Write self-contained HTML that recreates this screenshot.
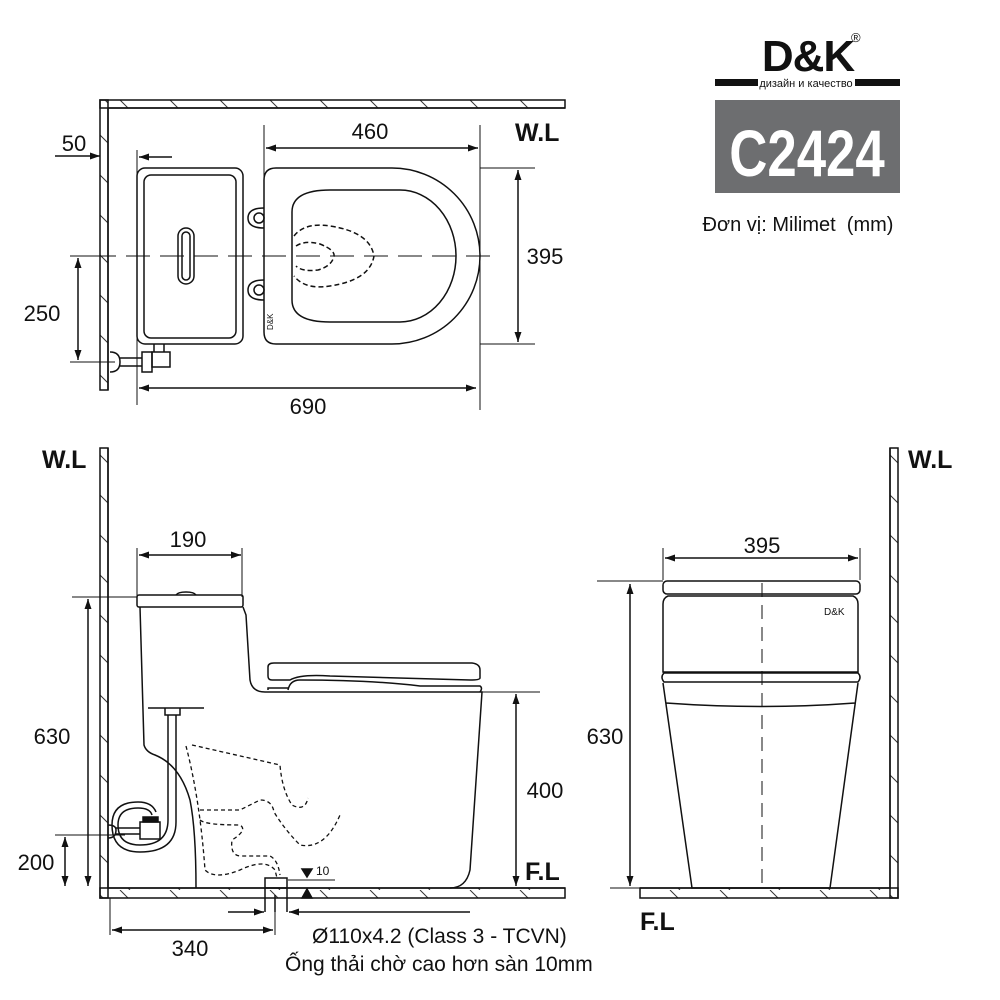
<!DOCTYPE html>
<html><head><meta charset="utf-8"><style>
html,body{margin:0;padding:0;background:#fff}
svg{display:block}
text{font-family:"Liberation Sans",sans-serif;fill:#111}
</style></head><body>
<svg width="1000" height="1000" viewBox="0 0 1000 1000" xmlns="http://www.w3.org/2000/svg">
<defs>
<marker id="a" viewBox="0 0 10 10" refX="10" refY="5" markerWidth="10" markerHeight="10" orient="auto-start-reverse" markerUnits="userSpaceOnUse"><path d="M0,1.5 L10,5 L0,8.5z" fill="#111"/></marker>
<pattern id="hh" width="50" height="10" patternUnits="userSpaceOnUse"><line x1="20" y1="0" x2="30" y2="10" stroke="#333" stroke-width="1"/></pattern>
<pattern id="hv" width="10" height="40" patternUnits="userSpaceOnUse"><line x1="0" y1="15" x2="10" y2="25" stroke="#333" stroke-width="1"/></pattern>
</defs>
<g fill="none" stroke="#111" stroke-width="1.5">
<rect x="100" y="100" width="465" height="8" fill="url(#hh)"/>
<rect x="100" y="100" width="8" height="290" fill="url(#hv)"/>
<path d="M108 108 H565 M108 108 V390" />
<rect x="137" y="168" width="106" height="176" rx="8"/>
<rect x="144" y="175" width="92" height="163" rx="7"/>
<rect x="178" y="228" width="16" height="56" rx="8"/>
<rect x="182" y="232" width="8" height="48" rx="4"/>
<path d="M276 168 H392 A88 88 0 0 1 392 344 H276 Q264 344 264 332 V180 Q264 168 276 168Z"/>
<path d="M292 212 Q292 190 330 190 H400 A56 66 0 0 1 400 322 H330 Q292 322 292 300Z"/>
<path d="M294 236 Q305 222 330 226 Q370 232 374 256 Q370 280 330 286 Q305 290 294 276" stroke-dasharray="5,3"/>
<path d="M296 246 Q305 240 320 244 Q335 250 334 256 Q332 266 318 270 Q302 272 296 266" stroke-dasharray="5,3"/>
<path d="M264 208 Q248 208 248 218 Q248 228 264 228 M264 280 Q248 280 248 290 Q248 300 264 300"/>
<circle cx="259" cy="218" r="5"/><circle cx="259" cy="290" r="5"/>
<path d="M110 352 Q120 352 120 362 Q120 372 110 372 M120 358 H142 M120 366 H142"/>
<rect x="142" y="352" width="10" height="20"/><rect x="152" y="352" width="18" height="15"/>
<path d="M154 344 V352 M164 344 V352"/>
<path d="M92 256 H500" stroke-width="1" stroke-dasharray="24,10"/>
<g stroke-width="1">
<path d="M264 125 V178 M480 125 V410 M137 150 V405 M480 168 H535 M480 344 H535 M70 256 H100 M70 362 H115"/>
</g>
<path d="M266 148 H478" marker-start="url(#a)" marker-end="url(#a)"/>
<path d="M518 170 V342" marker-start="url(#a)" marker-end="url(#a)"/>
<path d="M139 388 H476" marker-start="url(#a)" marker-end="url(#a)"/>
<path d="M78 258 V360" marker-start="url(#a)" marker-end="url(#a)"/>
<path d="M55 156 H100" marker-end="url(#a)"/>
<path d="M172 157 H139" marker-end="url(#a)"/>

<rect x="100" y="448" width="8" height="450" fill="url(#hv)"/>
<rect x="100" y="888" width="465" height="10" fill="url(#hh)"/>
<path d="M108 448 V888 H565"/>
<rect x="137" y="595" width="106" height="12" rx="2"/>
<path d="M176 595 Q178 592 186 592 Q194 592 196 595"/>
<path d="M140 607 L144 745 Q146 752 155 755 Q180 765 190 800 Q196 830 196 888"/>
<path d="M243 607 L246 615 L250 680 Q252 692 265 692 H482 L470 870 Q466 888 450 888"/>
<path d="M268 667 Q268 663 274 663 H472 Q480 664 480 670 V678 Q480 680 470 680 Q400 678 330 676 Q300 674 290 680 H272 Q268 680 268 676Z"/>
<path d="M288 690 Q290 680 300 680 Q370 680 420 686 H480 Q483 688 480 692"/>
<path d="M268 690 V688 H288"/>
<path d="M148 708 H204 M165 708 V715 H180 V708"/>
<path d="M168 715 V820 Q168 845 140 845 Q118 845 118 825 Q118 808 138 808 Q150 808 152 815"/>
<path d="M176 715 V822 Q176 852 140 852 Q112 852 112 825 Q112 802 138 802 Q152 802 156 812"/>
<rect x="140" y="822" width="20" height="17"/><rect x="143" y="817" width="15" height="5" fill="#111"/>
<path d="M108 825 Q116 825 116 830 Q116 838 108 838 M116 828 H140 M116 834 H140"/>
<g stroke-dasharray="4,3" stroke-width="1.3">
<path d="M192 745 L280 765 Q282 790 292 805 Q305 812 308 798 M186 746 Q200 800 205 870 Q215 880 240 870 Q265 858 275 870 L277 878"/>
<path d="M200 810 H240 Q250 805 260 800 Q272 800 274 812 Q285 830 300 845 Q325 850 340 815"/>
<path d="M200 820 Q205 825 240 825 Q248 830 232 840 Q230 855 240 856 H270 Q278 860 280 875"/>
</g>
<rect x="265" y="878" width="22" height="10"/>
<path d="M265 888 V912 M287 888 V912 M275 895 V912"/>
<g stroke-width="1">
<path d="M137 548 V597 M242 548 V597 M72 597 H137 M55 835 H125 M480 692 H540 M110 898 V935 M275 898 V935 M288 880 H335"/>
</g>
<path d="M139 555 H241" marker-start="url(#a)" marker-end="url(#a)"/>
<path d="M88 599 V886" marker-start="url(#a)" marker-end="url(#a)"/>
<path d="M65 837 V886" marker-start="url(#a)" marker-end="url(#a)"/>
<path d="M516 694 V886" marker-start="url(#a)" marker-end="url(#a)"/>
<path d="M112 930 H273" marker-start="url(#a)" marker-end="url(#a)"/>
<path d="M228 912 H264" marker-end="url(#a)"/>
<path d="M470 912 H289" marker-end="url(#a)"/>
<path d="M302 869 L312 869 L307 877Z M302 898 L312 898 L307 889Z" fill="#111"/>

<rect x="890" y="448" width="8" height="450" fill="url(#hv)"/>
<rect x="640" y="888" width="258" height="10" fill="url(#hh)"/>
<path d="M890 448 V888 H640"/>
<rect x="663" y="581" width="197" height="13" rx="4"/>
<path d="M668 596 Q663 598 663 604 V672 H858 V604 Q858 598 853 596Z"/>
<path d="M664 673 H858 Q862 677 858 682 H664 Q660 677 664 673Z"/>
<path d="M663 683 L692 888 H830 L858 683 M666 703 Q762 710 855 703"/>
<path d="M762 583 V888" stroke-width="1" stroke-dasharray="14,8"/>
<g stroke-width="1"><path d="M663 548 V580 M860 548 V580 M597 581 H663 M610 888 H692"/></g>
<path d="M665 558 H858" marker-start="url(#a)" marker-end="url(#a)"/>
<path d="M630 584 V886" marker-start="url(#a)" marker-end="url(#a)"/>
</g>

<g font-size="22">
<text x="370" y="139" text-anchor="middle">460</text>
<text x="545" y="264" text-anchor="middle">395</text>
<text x="308" y="414" text-anchor="middle">690</text>
<text x="42" y="321" text-anchor="middle">250</text>
<text x="74" y="151" text-anchor="middle">50</text>
<text x="188" y="547" text-anchor="middle">190</text>
<text x="52" y="744" text-anchor="middle">630</text>
<text x="36" y="870" text-anchor="middle">200</text>
<text x="545" y="798" text-anchor="middle">400</text>
<text x="190" y="956" text-anchor="middle">340</text>
<text x="762" y="553" text-anchor="middle">395</text>
<text x="605" y="744" text-anchor="middle">630</text>
</g>
<g font-size="21">
<text x="312" y="943">Ø110x4.2 (Class 3 - TCVN)</text>
<text x="285" y="971">Ống thải chờ cao hơn sàn 10mm</text>
</g>
<text x="316" y="875" font-size="12">10</text>
<g font-size="25" font-weight="bold">
<text x="515" y="141">W.L</text>
<text x="42" y="468">W.L</text>
<text x="908" y="468">W.L</text>
<text x="525" y="880">F.L</text>
<text x="640" y="930">F.L</text>
</g>
<text x="273" y="330" font-size="8" transform="rotate(-90 273 330)">D&amp;K</text>
<text x="824" y="615" font-size="10">D&amp;K</text>

<text x="808" y="71" font-size="44" font-weight="bold" text-anchor="middle" letter-spacing="-1">D&amp;K</text>
<text x="851" y="42" font-size="13">®</text>
<rect x="715" y="79" width="43" height="7" fill="#111"/>
<rect x="855" y="79" width="45" height="7" fill="#111"/>
<text x="806" y="87" font-size="11" text-anchor="middle">дизайн и качество</text>
<rect x="715" y="100" width="185" height="93" fill="#6d6e70"/>
<text x="807" y="176" font-size="66" font-weight="bold" text-anchor="middle" style="fill:#fff" transform="translate(807 0) scale(0.8 1) translate(-807 0)">C2424</text>
<text x="798" y="231" font-size="20" text-anchor="middle" xml:space="preserve">Đơn vị: Milimet  (mm)</text>
</svg>
</body></html>
